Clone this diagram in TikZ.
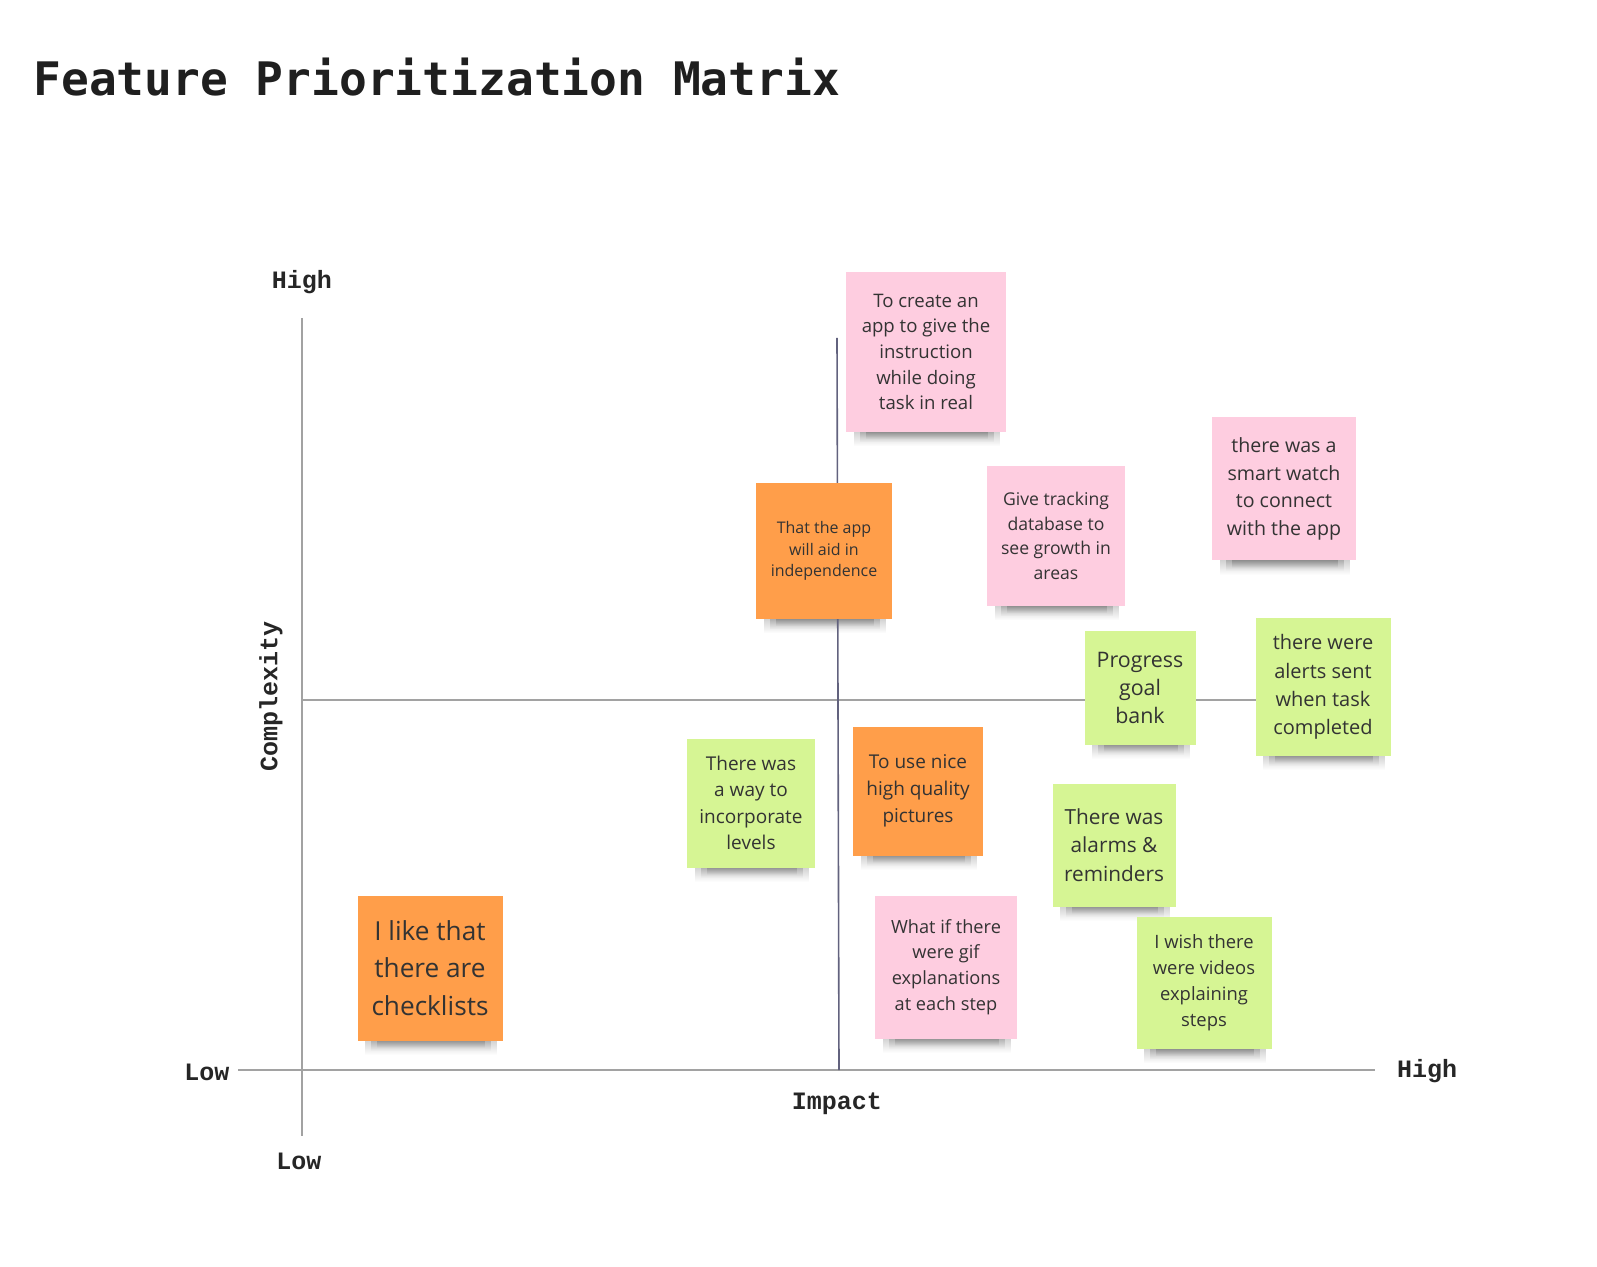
\documentclass[tikz,border=0pt]{standalone}
\usepackage{fontspec}
\usepackage{xcolor}
\usepackage{tikz}
\usetikzlibrary{fadings}
\setmainfont{Open Sans}
\newfontfamily\notefont{Open Sans}
\newfontfamily\titlefont{DejaVu Sans Mono}
\newfontfamily\axisfont{Liberation Mono}
\newcommand{\notefs}[2]{\notefont\fontsize{#1}{#2}\selectfont}
\definecolor{notepink}{HTML}{FECDE0}
\definecolor{noteorange}{HTML}{FF9E4A}
\definecolor{notegreen}{HTML}{D6F594}
\definecolor{notetext}{HTML}{333333}
\definecolor{axisgray}{HTML}{A2A2A2}
\definecolor{midline}{HTML}{62627E}
\pgfdeclarelayer{background}
\pgfsetlayers{background,main}

\begin{document}
\begin{tikzpicture}[x=0.5pt,y=-0.5pt,
  note/.style={rectangle,inner sep=0pt,align=center,text=notetext},
  pinknote/.style={note,fill=notepink},
  orangenote/.style={note,fill=noteorange},
  greennote/.style={note,fill=notegreen},
  axis/.style={draw=axisgray,line width=0.8pt},
  axislabel/.style={font=\axisfont\bfseries\fontsize{12.5}{14}\selectfont,text=black!85}]
\useasboundingbox (0,0) rectangle (1597,1267);

\node[anchor=west,inner sep=0pt,font=\titlefont\bfseries\fontsize{23.1}{27}\selectfont,text=black!88] (title) at (33,77) {Feature Prioritization Matrix};

% axes
\coordinate (ytop) at (302,318);
\coordinate (ybot) at (302,1136);
\coordinate (xleft) at (238,1070);
\coordinate (xright) at (1375,1070);
\coordinate (midleft) at (302,700);
\coordinate (midright) at (1300,700);
\coordinate (midtop) at (837,338);
\coordinate (midbot) at (839,1070);
\draw[axis] (ytop) -- (ybot);
\draw[axis] (xleft) -- (xright);
\draw[axis] (midleft) -- (midright);
\draw[draw=midline,line width=0.8pt] (midtop) -- (midbot);

\node[axislabel] (yhigh) at (302,282) {High};
\node[axislabel] (ylow) at (299,1161) {Low};
\node[axislabel] (xlow) at (207,1072) {Low};
\node[axislabel] (xhigh) at (1427,1071) {High};
\node[axislabel] (impact) at (837,1104) {Impact};
\node[axislabel,rotate=90] (complexity) at (271,696) {Complexity};

% stickies
\node[pinknote,minimum width=80pt,minimum height=80pt,font=\notefs{9.3}{12.8}] (instruct) at (926,352) {To create an\\app to give the\\instruction\\while doing\\task in real};
\node[orangenote,minimum width=68pt,minimum height=68pt,font=\notefs{8}{10.7}] (indep) at (824,551) {That the app\\will aid in\\independence};
\node[pinknote,minimum width=69pt,minimum height=70pt,font=\notefs{8.8}{12.4}] (tracking) at (1056,536) {Give tracking\\database to\\see growth in\\areas};
\node[pinknote,minimum width=72pt,minimum height=71.5pt,font=\notefs{9.8}{13.7}] (watch) at (1284,489) {there was a\\smart watch\\to connect\\with the app};
\node[greennote,minimum width=55.5pt,minimum height=56.5pt,font=\notefs{10.7}{14}] (goal) at (1140,688) {Progress\\goal\\bank};
\node[greennote,minimum width=67.5pt,minimum height=68.5pt,font=\notefs{10}{14.1}] (alerts) at (1323,687) {there were\\alerts sent\\when task\\completed};
\node[greennote,minimum width=64pt,minimum height=64.5pt,font=\notefs{9.5}{13.2}] (levels) at (751,803) {There was\\a way to\\incorporate\\levels};
\node[orangenote,minimum width=65pt,minimum height=64.5pt,font=\notefs{9.5}{13.5}] (pictures) at (918,791) {To use nice\\high quality\\pictures};
\node[greennote,minimum width=61.5pt,minimum height=61.5pt,font=\notefs{10.4}{14.2}] (alarms) at (1114,845) {There was\\alarms \&\\reminders};
\node[pinknote,minimum width=71pt,minimum height=71.5pt,font=\notefs{9.1}{12.9}] (gif) at (946,967) {What if there\\were gif\\explanations\\at each step};
\node[greennote,minimum width=67.5pt,minimum height=66pt,font=\notefs{9.2}{13}] (videos) at (1204,983) {I wish there\\were videos\\explaining\\steps};
\node[orangenote,minimum width=72.5pt,minimum height=72.5pt,font=\notefs{13.1}{18.6}] (checklists) at (430,968) {I like that\\there are\\checklists};

% soft shadows under the stickies
\begin{pgfonlayer}{background}
\foreach \n in {instruct,indep,tracking,watch,goal,alerts,levels,pictures,alarms,gif,videos,checklists}{
  \fill[black,opacity=.22,path fading=south] ([xshift=4pt,yshift=2pt]\n.south west) rectangle ([xshift=-3pt,yshift=-7pt]\n.south east);
  \fill[black,opacity=.22,path fading=south] ([xshift=7pt,yshift=2pt]\n.south west) rectangle ([xshift=-6pt,yshift=-5pt]\n.south east);
  \fill[black,opacity=.25,path fading=south] ([xshift=10pt,yshift=2pt]\n.south west) rectangle ([xshift=-9pt,yshift=-3.5pt]\n.south east);
}
\end{pgfonlayer}
\end{tikzpicture}
\end{document}
